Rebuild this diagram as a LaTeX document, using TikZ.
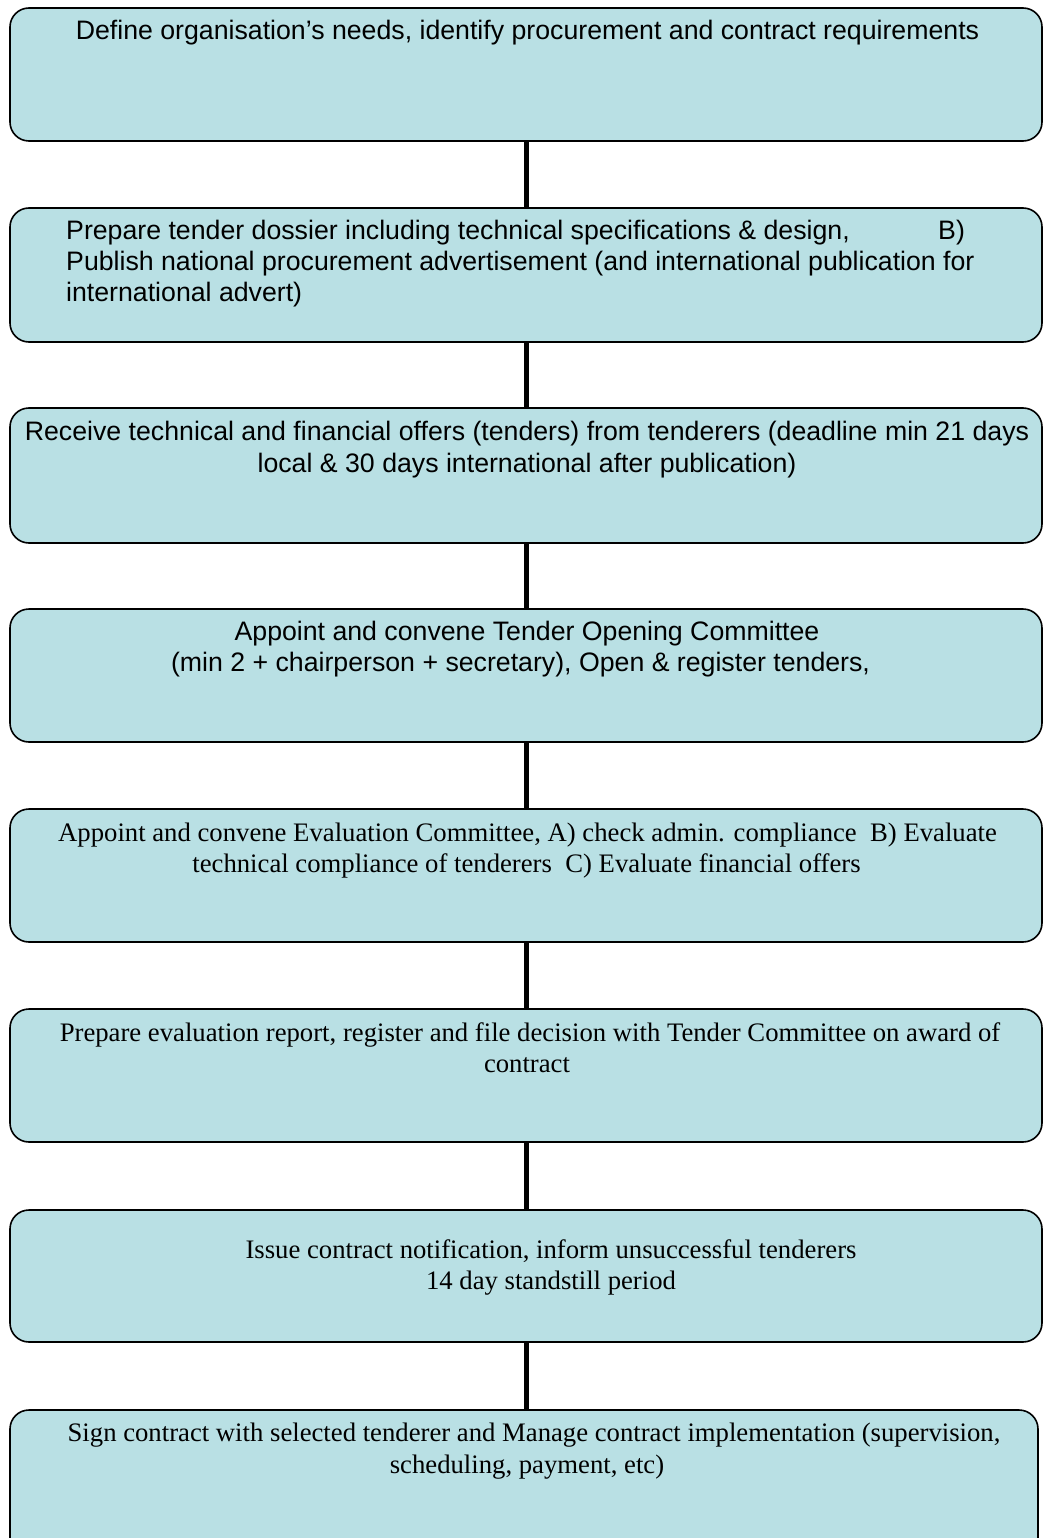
\documentclass[tikz,border=0pt]{standalone}
\usepackage{fontspec}
\setmainfont{Liberation Serif}
\newfontfamily\arialfont{Liberation Sans}
\definecolor{boxfill}{RGB}{185,224,228}
\tikzset{
  stage/.style={draw=black, line width=1.6pt, fill=boxfill, rounded corners=19pt,
    anchor=north west, inner sep=0pt, outer sep=0pt},
  link/.style={line width=5pt, black},
  sanstext/.style={anchor=base, inner sep=0pt, font=\arialfont\fontsize{26.7}{31}\selectfont},
  seriftext/.style={anchor=base, inner sep=0pt, font=\fontsize{26.7}{31}\selectfont},
}
\begin{document}
\begin{tikzpicture}[x=1pt,y=-1pt]
\useasboundingbox (0,0) rectangle (1043,1538);
\clip (0,0) rectangle (1043,1538);

% process stages
\node[stage, minimum width=1032pt, minimum height=133pt] (b1) at (10,8) {};
\node[stage, minimum width=1032pt, minimum height=134pt] (b2) at (10,208) {};
\node[stage, minimum width=1032pt, minimum height=135pt] (b3) at (10,408) {};
\node[stage, minimum width=1032pt, minimum height=133pt] (b4) at (10,609) {};
\node[stage, minimum width=1032pt, minimum height=133pt] (b5) at (10,809) {};
\node[stage, minimum width=1032pt, minimum height=133pt] (b6) at (10,1009) {};
\node[stage, minimum width=1032pt, minimum height=132pt] (b7) at (10,1210) {};
\node[stage, minimum width=1028pt, minimum height=160pt] (b8) at (10,1410) {};

% connectors between stages
\draw[link] (b1.south) -- (b2.north);
\draw[link] (b2.south) -- (b3.north);
\draw[link] (b3.south) -- (b4.north);
\draw[link] (b4.south) -- (b5.north);
\draw[link] (b5.south) -- (b6.north);
\draw[link] (b6.south) -- (b7.north);
\draw[link] (b7.south) -- (b7.south |- b8.north);

% stage texts
\node[sanstext] (t1) at (527.5,39.5) {Define organisation’s needs, identify procurement and contract requirements};

\node[sanstext, anchor=base west] (t2a) at (66,239.3) {Prepare tender dossier including technical specifications \& design,};
\node[sanstext, anchor=base west] (t2b) at (938,239.3) {B)};
\node[sanstext, anchor=base west] (t2c) at (66,270.6) {Publish national procurement advertisement (and international publication for};
\node[sanstext, anchor=base west] (t2d) at (66,301.9) {international advert)};

\node[sanstext] (t3a) at (527,440.7) {Receive technical and financial offers (tenders) from tenderers (deadline min 21 days};
\node[sanstext] (t3b) at (527,472) {local \& 30 days international after publication)};

\node[sanstext] (t4a) at (527,640.5) {Appoint and convene Tender Opening Committee};
\node[sanstext] (t4b) at (520.5,671.8) {(min 2 + chairperson + secretary), Open \& register tenders,};

\node[seriftext] (t5a) at (527.5,841) {Appoint and convene Evaluation Committee, A) check admin. compliance\ \ B) Evaluate};
\node[seriftext] (t5b) at (526.5,872.3) {technical compliance of tenderers\ \ C) Evaluate financial offers};

\node[seriftext] (t6a) at (530,1041) {Prepare evaluation report, register and file decision with Tender Committee on award of};
\node[seriftext] (t6b) at (527,1072.3) {contract};

\node[seriftext] (t7a) at (551,1258) {Issue contract notification, inform unsuccessful tenderers};
\node[seriftext] (t7b) at (551,1289.3) {14 day standstill period};

\node[seriftext] (t8a) at (534,1441.7) {Sign contract with selected tenderer and Manage contract implementation (supervision,};
\node[seriftext] (t8b) at (527,1473) {scheduling, payment, etc)};
\end{tikzpicture}
\end{document}
